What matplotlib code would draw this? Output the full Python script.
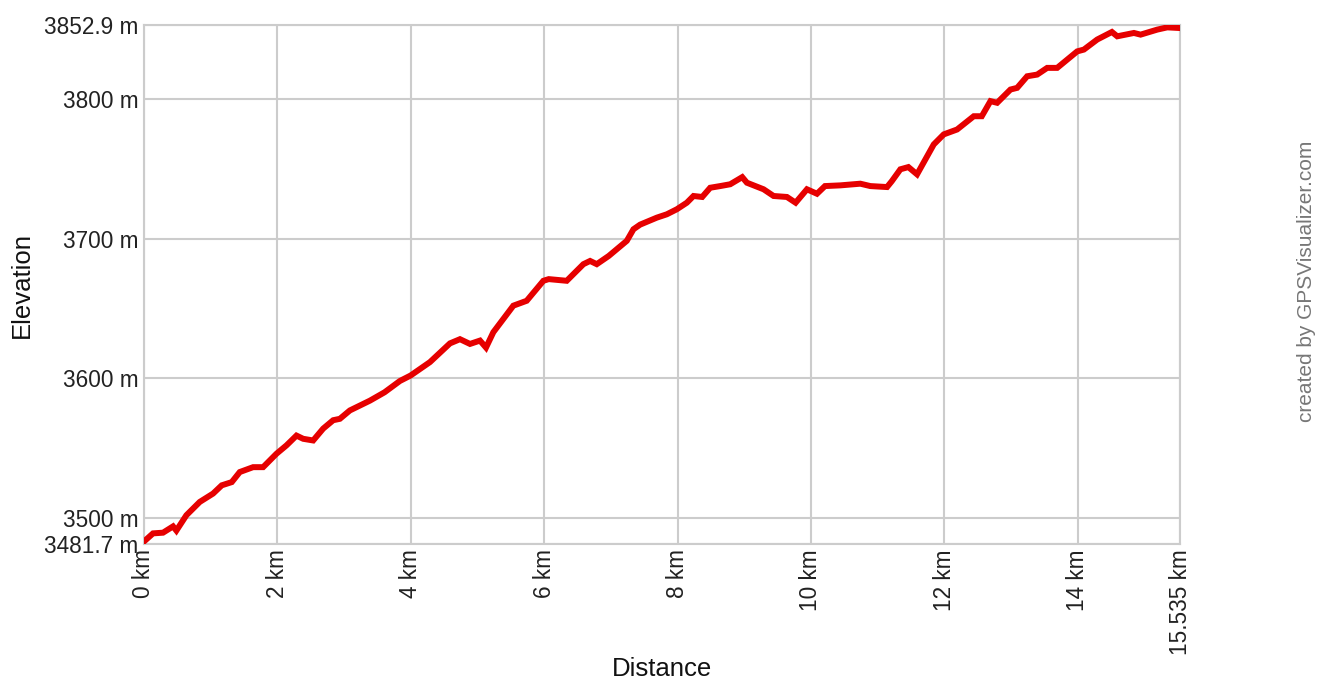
from __future__ import annotations

import matplotlib

matplotlib.use("Agg")
import matplotlib.pyplot as plt

# Perfil de elevación (km, m)
DISTANCE_KM = [
    0.00, 0.14, 0.29, 0.44, 0.49, 0.64, 0.84, 1.04, 1.17, 1.32, 1.44, 1.64, 1.79,
    1.99, 2.14, 2.29, 2.39, 2.54, 2.69, 2.84, 2.94, 3.09, 3.39, 3.61, 3.84, 4.00,
    4.29, 4.59, 4.74, 4.89, 5.04, 5.13, 5.24, 5.54, 5.74, 5.99, 6.07, 6.34, 6.59,
    6.69, 6.79, 6.97, 7.24, 7.34, 7.44, 7.69, 7.84, 7.99, 8.14, 8.24, 8.37, 8.49,
    8.64, 8.79, 8.97, 9.04, 9.29, 9.44, 9.64, 9.77, 9.94, 10.09, 10.21, 10.44,
    10.74, 10.89, 11.14, 11.21, 11.34, 11.46, 11.59, 11.84, 11.99, 12.19, 12.44,
    12.56, 12.69, 12.79, 12.99, 13.09, 13.24, 13.39, 13.54, 13.69, 13.99, 14.09,
    14.29, 14.51, 14.59, 14.84, 14.94, 15.19, 15.34, 15.535,
]
ELEVATION_M = [
    3483.0, 3489.0, 3489.5, 3494.0, 3491.0, 3502.0, 3511.5, 3517.5, 3523.4, 3525.7,
    3532.9, 3536.4, 3536.4, 3546.0, 3552.0, 3559.0, 3556.7, 3555.5, 3564.0, 3570.0,
    3571.0, 3577.0, 3584.0, 3590.0, 3598.1, 3602.0, 3611.6, 3625.0, 3628.0, 3624.6,
    3627.0, 3622.0, 3633.0, 3652.0, 3655.5, 3669.8, 3671.0, 3669.8, 3681.7, 3684.0,
    3681.7, 3687.6, 3698.4, 3706.7, 3710.0, 3715.0, 3717.4, 3721.0, 3725.7, 3730.5,
    3729.8, 3736.4, 3737.6, 3738.9, 3744.0, 3740.0, 3735.3, 3730.5, 3729.8, 3725.7,
    3735.3, 3732.1, 3737.6, 3738.1, 3739.3, 3737.6, 3736.9, 3741.0, 3749.6, 3751.2,
    3746.0, 3767.4, 3774.6, 3778.1, 3787.6, 3787.6, 3798.4, 3797.2, 3806.7, 3807.9,
    3816.2, 3817.4, 3822.2, 3822.2, 3834.0, 3835.3, 3842.5, 3847.9, 3844.8, 3847.2,
    3846.0, 3849.6, 3851.2, 3850.7,
]

X_TICKS = [0, 2, 4, 6, 8, 10, 12, 14, 15.535]
X_TICK_LABELS = ["0 km", "2 km", "4 km", "6 km", "8 km", "10 km", "12 km", "14 km", "15.535 km"]
Y_MIN, Y_MAX = 3481.7, 3852.9
Y_TICKS = [3481.7, 3500, 3600, 3700, 3800, 3852.9]
Y_TICK_LABELS = ["3481.7 m", "3500 m", "3600 m", "3700 m", "3800 m", "3852.9 m"]

GRID_COLOR = "#cccccc"
LINE_COLOR = "#e60000"

plt.rcParams["font.family"] = ["Liberation Sans", "DejaVu Sans"]

fig = plt.figure(figsize=(13.17, 6.81), dpi=100)
ax = fig.add_axes([0.1091, 0.2018, 0.7871, 0.7615])

ax.plot(DISTANCE_KM, ELEVATION_M, color=LINE_COLOR, linewidth=4.3,
        solid_joinstyle="miter", zorder=3)

ax.set_xlim(0, DISTANCE_KM[-1])
ax.set_ylim(Y_MIN, Y_MAX)
ax.set_xticks(X_TICKS)
ax.set_xticklabels(X_TICK_LABELS, rotation=90, fontsize=16.3)
ax.set_yticks(Y_TICKS)
ax.set_yticklabels(Y_TICK_LABELS, fontsize=16.3)
ax.tick_params(length=0, pad=4, colors="#222222")

ax.grid(True, color=GRID_COLOR, linewidth=1.5)
for spine in ax.spines.values():
    spine.set_color(GRID_COLOR)
    spine.set_linewidth(1.5)

# títulos de ejes colocados en coordenadas de figura
fig.text(0.5027, 0.017, "Distance", ha="center", va="center",
         fontsize=18.5, color="#111111")
fig.text(0.0167, 0.582, "Elevation", rotation=90, ha="center", va="center",
         fontsize=18.5, color="#111111")

fig.text(0.9924, 0.587, "created by GPSVisualizer.com", rotation=90,
         ha="center", va="center", fontsize=15, color="#777777")

fig.savefig("out.png", dpi=100)
